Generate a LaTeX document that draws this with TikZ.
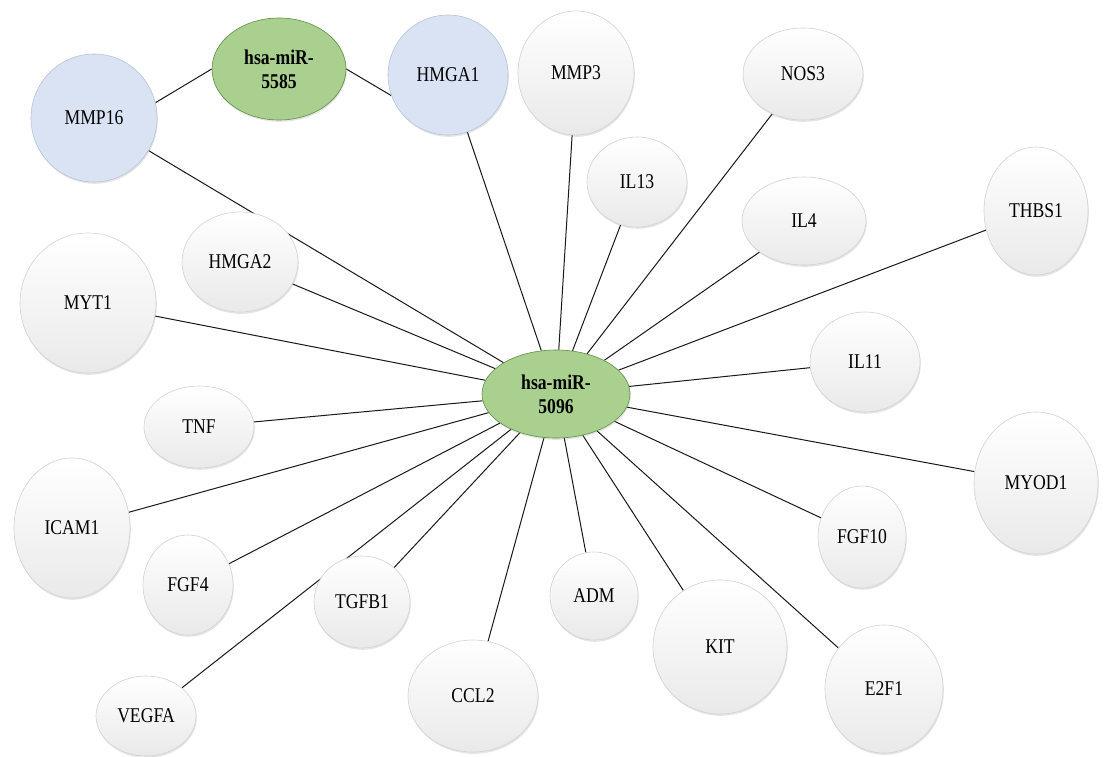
\documentclass[tikz,border=0pt]{standalone}
\usepackage{fontspec}
\setmainfont{Liberation Serif}[FakeStretch=0.84]
\usetikzlibrary{shapes.geometric,shadows}
\pgfdeclarelayer{bg}
\pgfsetlayers{bg,main}
\definecolor{gfill}{RGB}{169,208,142}
\definecolor{gline}{RGB}{98,140,70}
\definecolor{bfill}{RGB}{218,227,243}
\definecolor{bline}{RGB}{185,195,215}
\tikzset{
  sz/.style 2 args={minimum width=2*#1pt, minimum height=2*#2pt},
  base/.style={ellipse, inner sep=0pt, align=center, line width=0.6pt,
    font=\fontsize{21}{24}\selectfont,
    drop shadow={opacity=0.2, shadow xshift=0.8pt, shadow yshift=-1.8pt}},
  gene/.style={base, draw=gray!35, top color=white, middle color=white, bottom color=gray!17},
  bgene/.style={base, draw=bline, fill=bfill},
  mir/.style={base, draw=gline, fill=gfill, font=\fontsize{21}{24}\selectfont\bfseries},
  edge/.style={draw=black!90, line width=1pt}
}
\begin{document}
\begin{tikzpicture}[x=1pt,y=-1pt]
\useasboundingbox (0,0) rectangle (1107,756);
\begin{pgfonlayer}{bg}
\fill[white] (0,0) rectangle (1107,756);
\end{pgfonlayer}
\node[bgene, sz={63}{64}] (mmp16) at (94,118) {MMP16};
\node[mir, sz={67}{51}] (m5585) at (279,69) {hsa-miR-\\5585};
\node[bgene, sz={60}{60}] (hmga1) at (448,75) {HMGA1};
\node[gene, sz={58}{62}] (mmp3) at (576,73) {MMP3};
\node[gene, sz={60}{46}] (nos3) at (803,74) {NOS3};
\node[gene, sz={50}{45}] (il13) at (637,182) {IL13};
\node[gene, sz={62}{44}] (il4) at (804,221) {IL4};
\node[gene, sz={52}{64}] (thbs1) at (1036,211) {THBS1};
\node[gene, sz={58}{50}] (hmga2) at (240,262) {HMGA2};
\node[gene, sz={68}{70}] (myt1) at (88,303) {MYT1};
\node[mir, sz={74}{44}] (c) at (556,394) {hsa-miR-\\5096};
\node[gene, sz={55}{50}] (il11) at (865,362) {IL11};
\node[gene, sz={55}{41}] (tnf) at (199,427) {TNF};
\node[gene, sz={62}{71}] (myod1) at (1036,483) {MYOD1};
\node[gene, sz={58}{70}] (icam1) at (72,528) {ICAM1};
\node[gene, sz={44}{51}] (fgf10) at (862,537) {FGF10};
\node[gene, sz={45}{50}] (fgf4) at (188,585) {FGF4};
\node[gene, sz={48}{46}] (tgfb1) at (362,602) {TGFB1};
\node[gene, sz={44}{44}] (adm) at (594,596) {ADM};
\node[gene, sz={67}{67}] (kit) at (720,647) {KIT};
\node[gene, sz={65}{56}] (ccl2) at (473,696) {CCL2};
\node[gene, sz={59}{64}] (e2f1) at (884,689) {E2F1};
\node[gene, sz={50}{40}] (vegfa) at (146,716) {VEGFA};
\begin{pgfonlayer}{bg}
\draw[edge] (m5585.west) -- (mmp16.14);
\draw[edge] (m5585.east) -- (hmga1.200);
\foreach \t in {mmp16,hmga1,mmp3,nos3,il13,il4,thbs1,hmga2,myt1,il11,tnf,myod1,icam1,fgf10,fgf4,tgfb1,adm,kit,ccl2,e2f1,vegfa}
  \draw[edge] (c) -- (\t);
\end{pgfonlayer}
\end{tikzpicture}
\end{document}
